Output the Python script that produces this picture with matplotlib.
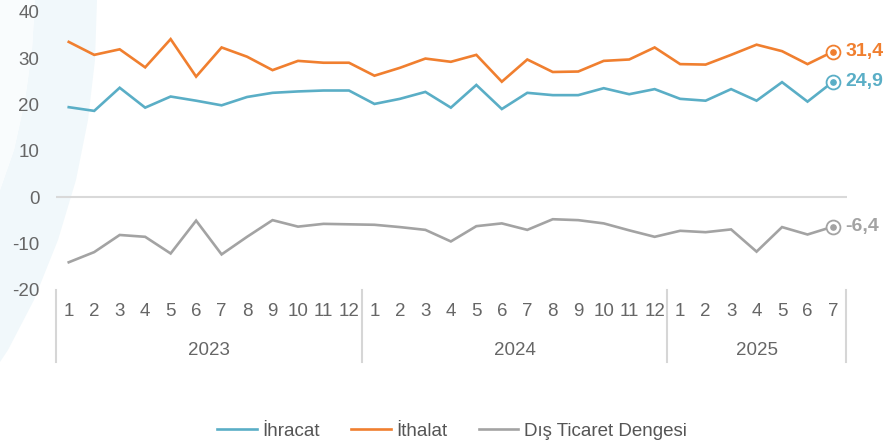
import matplotlib
import numpy as np

matplotlib.use('Agg')

import matplotlib.pyplot as plt
from matplotlib.patches import Polygon

# aylik dis ticaret verileri (milyar $)
years = ['2023', '2024', '2025']
months_per_year = [12, 12, 7]
ihracat = [19.4, 18.6, 23.6, 19.3, 21.7, 20.8, 19.8, 21.6, 22.5, 22.8, 23.0, 23.0,
           20.1, 21.2, 22.7, 19.3, 24.2, 19.0, 22.5, 22.0, 22.0, 23.5, 22.2, 23.3,
           21.2, 20.8, 23.3, 20.8, 24.8, 20.6, 24.9]
ithalat = [33.5, 30.7, 31.9, 28.0, 34.1, 26.0, 32.3, 30.3, 27.4, 29.4, 29.0, 29.0,
           26.2, 27.9, 29.9, 29.2, 30.7, 24.9, 29.7, 27.0, 27.1, 29.4, 29.7, 32.3,
           28.7, 28.6, 30.7, 32.9, 31.5, 28.7, 31.4]
denge = [-14.1, -11.9, -8.2, -8.6, -12.2, -5.1, -12.4, -8.6, -5.0, -6.4, -5.8, -5.9,
         -6.0, -6.5, -7.1, -9.6, -6.3, -5.7, -7.1, -4.8, -5.0, -5.7, -7.2, -8.6,
         -7.3, -7.6, -7.0, -11.8, -6.5, -8.1, -6.4]
yticks = [-20, -10, 0, 10, 20, 30, 40]

series = [
    ('İhracat', ihracat, '#5aaec6', '24,9'),
    ('İthalat', ithalat, '#f07f2f', '31,4'),
    ('Dış Ticaret Dengesi', denge, '#a3a3a3', '-6,4'),
]

plt.rcParams['font.family'] = ['Liberation Sans', 'DejaVu Sans']
W, H = 886, 442
FS = 13.5
fig = plt.figure(figsize=(W / 100, H / 100), dpi=100)


def px(x, y):
    return (x / W, 1 - y / H)


# arka plandaki acik mavi kavis
outer = [(97, 0), (95, 60), (88, 120), (76, 180), (58, 240), (34, 300), (8, 350), (0, 362)]
inner = [(0, 190), (14, 150), (25, 100), (32, 50), (35, 0)]
band = Polygon([px(*p) for p in outer + inner], closed=True, transform=fig.transFigure,
               facecolor='#f1f8fb', edgecolor='none', zorder=-2)
fig.patches.append(band)
light = Polygon([px(*p) for p in [(0, 0), (35, 0)] + inner[::-1][1:] + [(0, 190)]], closed=True,
                transform=fig.transFigure, facecolor='#f9fcfd', edgecolor='none', zorder=-2)
fig.patches.append(light)

ax = fig.add_axes([56 / W, 1 - 289.6 / H, (847 - 56) / W, (289.6 - 11.8) / H])
ax.set_zorder(2)
ax.patch.set_alpha(0)

x = np.arange(len(ihracat))
for name, vals, color, lbl in series:
    ax.plot(x, vals, color=color, lw=1.9, label=name, solid_joinstyle='miter', zorder=3)
    ax.plot(x[-1], vals[-1], 'o', ms=10, mfc='white', mec=color, mew=1.3, zorder=4)
    ax.plot(x[-1], vals[-1], 'o', ms=3.8, color=color, zorder=5)
    ax.annotate(lbl, (x[-1], vals[-1]), xytext=(9, 0), textcoords='offset points',
                color=color, fontsize=14, fontweight='bold', va='center', ha='left',
                annotation_clip=False)

ax.axhline(0, color='#d9d9d9', lw=1.5, zorder=1)
ax.set_xlim(-0.5, 30.55)
ax.set_ylim(-20, 40)
ax.set_yticks(yticks)
ax.set_yticklabels([str(v) for v in yticks], fontsize=FS, color='#666666')
ax.tick_params(axis='y', length=0, pad=12)
ax.set_xticks([])
for s in ax.spines.values():
    s.set_visible(False)

# ay ve yil etiketleri
trans = ax.get_xaxis_transform()
start = 0
seps = [-0.5]
for yr, n in zip(years, months_per_year):
    for m in range(n):
        ax.text(start + m, -0.078, str(m + 1), transform=trans, ha='center', va='center',
                fontsize=FS, color='#666666')
    ax.text(start + (n - 1) / 2, -0.22, yr, transform=trans, ha='center', va='center',
            fontsize=FS, color='#666666')
    start += n
    seps.append(start - 0.5)
for s in seps:
    ax.plot([s, s], [0, -0.26], transform=trans, color='#d6d6d6', lw=1.5, clip_on=False)

leg = fig.legend(loc='center', bbox_to_anchor=(0.51, 1 - 431 / H), ncol=3, frameon=False,
                 fontsize=FS, handlelength=2.1, handletextpad=0.28, columnspacing=1.7)
for t in leg.get_texts():
    t.set_color('#555555')

plt.savefig('out.png', dpi=100)
